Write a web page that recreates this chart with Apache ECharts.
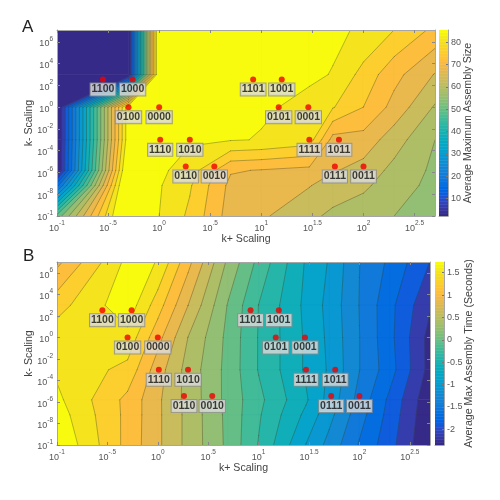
<!DOCTYPE html>
<html><head><meta charset="utf-8">
<style>html,body{margin:0;padding:0;background:#fff}#c{width:500px;height:500px;filter:blur(0.35px)}</style>
<script src="https://cdn.jsdelivr.net/npm/echarts@6/dist/echarts.min.js"></script>
</head><body><div id="c"></div>
<script>
// log10 of the sampled k+ and k- scalings
const kPlusNodes  = [-1, -0.3, 0, 0.3, 0.7, 1, 1.47, 1.7, 2, 2.3, 2.7];
const kMinusNodes = [7.1, 3, 0, -3, -5.8, -7.2, -10];

// Average Maximum Assembly Size (rows follow kMinusNodes, columns kPlusNodes)
const sizeValues = [
  [ 1,  1,    93.5, 86.4, 85.9, 85.9, 85.9, 85.9, 85.2, 81.1, 75.6],
  [ 1,  1,    93.5, 86.4, 85.9, 85.9, 85.9, 85.4, 79.5, 73.8, 67.7],
  [ 1,  88.9, 89.7, 86.4, 85.9, 85.9, 84.8, 81.4, 76.7, 70.8, 63.1],
  [ 1,  88.9, 86.4, 86.0, 85.8, 85.3, 83.3, 70.6, 70.6, 65.6, 59.2],
  [ 1,  93.2, 86.4, 83.5, 72.8, 72.1, 71.0, 68.4, 66.3, 62.3, 58.3],
  [18,  95.6, 85.9, 81.6, 71.1, 70.9, 68.2, 65.8, 64.4, 61.2, 57.9],
  [52,  95.1, 85.5, 80.2, 70.2, 68.7, 64.5, 62.7, 61.1, 59.2, 56.6]
];
// Average Max Assembly Time in seconds
const timeValues = [
  [1.03, 1.80, 1.735, 1.17, 0.40, -0.04, -0.65, -0.86, -1.27, -1.53, -1.92],
  [1.44, 1.88, 1.41,  0.88, 0.21, -0.20, -0.68, -0.91, -1.28, -1.64, -2.11],
  [1.65, 1.67, 1.17,  0.66, 0.17, -0.21, -0.66, -0.89, -1.27, -1.64, -2.21],
  [1.70, 1.46, 0.98,  0.58, 0.16, -0.21, -0.66, -0.87, -1.27, -1.61, -2.21],
  [1.79, 1.25, 0.92,  0.59, 0.16, -0.14, -0.60, -0.92, -1.35, -1.75, -2.30],
  [1.85, 1.25, 0.92,  0.60, 0.17, -0.17, -0.68, -0.99, -1.40, -1.78, -2.32],
  [1.95, 1.24, 0.92,  0.60, 0.18, -0.21, -0.85, -1.13, -1.51, -1.84, -2.35]
];
const sizeRange = [2.2, 85.5];
const timeRange = [-2.35, 1.74];
const bandCount = 19;

const dotCodes = ['1100','1000','0100','0000','1110','1010','0110','0010','1101','1001','0101','0001','1111','1011','0111','0011'];
const dotKPlus = [-0.55,-0.26,-0.30,0,0.01,0.30,0.26,0.54,0.92,1.20,1.17,1.46,1.47,1.76,1.72,2.00];
const dotKMinus = [2.55,2.55,0,0,-3,-3,-5.45,-5.45,2.55,2.55,0,0,-3,-3,-5.45,-5.45];

const xTicks = [-1,-0.5,0,0.5,1,1.5,2,2.5];
const xTickLabels = ['-1','-.5','0','.5','1','1.5','2','2.5'];
const yTicks = [-10,-8,-6,-4,-2,0,2,4,6];
const yTickLabels = ['-1','-8','-6','-4','-2','0','2','4','6'];
const sizeBarTicks = [10,20,30,40,50,60,70,80];
const timeBarTicks = [-2,-1.5,-1,-0.5,0,0.5,1,1.5];

const parula = [[.2081,.1663,.5292],[.2116,.1898,.5777],[.2123,.2138,.627],[.2081,.2386,.6771],[.1959,.2645,.7279],[.1707,.2919,.7792],[.1253,.3242,.8303],[.0591,.3598,.8683],[.0117,.3875,.882],[.006,.4086,.8828],[.0165,.4266,.8786],[.0329,.443,.872],[.0498,.4586,.8641],[.0629,.4737,.8554],[.0723,.4887,.8467],[.0779,.504,.8384],[.0793,.52,.8312],[.0749,.5375,.8263],[.0641,.557,.824],[.0488,.5772,.8228],[.0343,.5966,.8199],[.0265,.6137,.8135],[.0239,.6287,.8038],[.0231,.6418,.7913],[.0228,.6535,.7768],[.0267,.6642,.7607],[.0384,.6743,.7436],[.059,.6838,.7254],[.0843,.6928,.7062],[.1133,.7015,.6859],[.1453,.7098,.6646],[.1801,.7177,.6424],[.2178,.725,.6193],[.2586,.7317,.5954],[.3022,.7376,.5712],[.3482,.7424,.5473],[.3953,.7459,.5244],[.442,.7481,.5033],[.4871,.7491,.484],[.53,.7491,.4661],[.5709,.7485,.4494],[.6099,.7473,.4337],[.6473,.7456,.4188],[.6834,.7435,.4044],[.7184,.7411,.3905],[.7525,.7384,.3768],[.7858,.7356,.3633],[.8185,.7327,.3498],[.8507,.7299,.336],[.8824,.7274,.3217],[.9139,.7258,.3063],[.945,.7261,.2886],[.9739,.7314,.2666],[.9938,.7455,.2403],[.999,.7653,.2164],[.9955,.7861,.1967],[.988,.8066,.1794],[.9789,.8271,.1633],[.9697,.8481,.1475],[.9626,.8705,.1309],[.9589,.8949,.1132],[.9598,.9218,.0948],[.9661,.9514,.0755],[.9763,.9831,.0538]];

function colorAt(t){
  const c = parula[Math.max(0,Math.min(63,Math.round(t*63)))];
  return 'rgb(' + c.map(v=>Math.round(v*255)).join(',') + ')';
}

// Cut every grid cell at each contour level, in data coordinates.
function contourParts(values, range){
  const fills = [], lines = [];
  const corners = (r,c)=>[[kPlusNodes[c],kMinusNodes[r],values[r][c]],[kPlusNodes[c+1],kMinusNodes[r],values[r][c+1]],[kPlusNodes[c+1],kMinusNodes[r+1],values[r+1][c+1]],[kPlusNodes[c],kMinusNodes[r+1],values[r+1][c]]];
  const cross=(a,b,l)=>{const f=(l-a[2])/(b[2]-a[2]);return [a[0]+f*(b[0]-a[0]),a[1]+f*(b[1]-a[1])];};
  for(let i=0;i<=bandCount;i++){
    const level = range[0]+i*(range[1]-range[0])/bandCount;
    const color = colorAt(i/bandCount);
    for(let r=0;r<kMinusNodes.length-1;r++)for(let c=0;c<kPlusNodes.length-1;c++){
      const q=corners(r,c), poly=[], pts=[];
      for(let k=0;k<4;k++){
        const a=q[k], b=q[(k+1)%4], ia=(i===0)||a[2]>=level, ib=(i===0)||b[2]>=level;
        if(ia) poly.push([a[0],a[1]]);
        if(ia!==ib){const p=cross(a,b,level); poly.push(p); pts.push(p);}
      }
      if(poly.length>2) fills.push({poly,color});
      if(i>0 && pts.length>=2){
        if(pts.length===2) lines.push([pts[0],pts[1]]);
        else { lines.push([pts[0],pts[1]]); lines.push([pts[2],pts[3]]); }
      }
    }
  }
  return {fills,lines};
}

function fillSeries(xi,fills){
  return {type:'custom',xAxisIndex:xi,yAxisIndex:xi,silent:true,animation:false,z:2,clip:true,
    data:fills.map((f,i)=>[i]),encode:{x:-1,y:-1},
    renderItem:(p,api)=>{const f=fills[api.value(0)];
      return {type:'polygon',shape:{points:f.poly.map(q=>api.coord(q))},style:{fill:f.color,stroke:f.color,lineWidth:0.6}};}};
}
function lineSeries(xi,lines){
  return {type:'custom',xAxisIndex:xi,yAxisIndex:xi,silent:true,animation:false,z:3,clip:true,
    data:lines.map((f,i)=>[i]),encode:{x:-1,y:-1},
    renderItem:(p,api)=>{const l=lines[api.value(0)],a=api.coord(l[0]),b=api.coord(l[1]);
      return {type:'line',shape:{x1:a[0],y1:a[1],x2:b[0],y2:b[1]},style:{stroke:'rgba(50,55,40,0.5)',lineWidth:0.7,lineCap:'round'}};}};
}
function dotSeries(xi){
  return {type:'scatter',xAxisIndex:xi,yAxisIndex:xi,silent:true,animation:false,z:6,symbolSize:6,
    itemStyle:{color:'#f00000'},
    data:dotCodes.map((n,i)=>({name:n,value:[dotKPlus[i],dotKMinus[i]]})),
    label:{show:true,position:'bottom',distance:1,formatter:'{b}',color:'#111',fontFamily:'Liberation Sans',fontWeight:'bold',fontSize:10.5,lineHeight:10,
      backgroundColor:'#dcdcdc',borderColor:'#8c8c8c',borderWidth:1,padding:[1,1,1,1]}};
}
function barSeries(xi,range){
  const slices=parula.map((c,i)=>i);
  return {type:'custom',xAxisIndex:xi,yAxisIndex:xi,silent:true,animation:false,z:2,clip:true,
    data:slices.map(i=>[i]),encode:{x:-1,y:-1},
    renderItem:(p,api)=>{const i=api.value(0),s=(range[1]-range[0])/64;
      const a=api.coord([0,range[0]+i*s]),b=api.coord([1,range[0]+(i+1)*s]);
      return {type:'rect',shape:{x:a[0],y:b[1],width:b[0]-a[0],height:a[1]-b[1]},style:{fill:colorAt(i/63),stroke:colorAt(i/63),lineWidth:0.5}};}};
}

const GREY='#a6a6a6', TXT='#555555';
const richLabel={b:{fontSize:9,lineHeight:13,color:TXT,verticalAlign:'bottom',fontFamily:'Liberation Sans'},s:{fontSize:6.5,lineHeight:13,color:TXT,verticalAlign:'top',fontFamily:'Liberation Sans'}};
const mainLine={onZero:false,lineStyle:{color:GREY,width:1}};
function xMain(gi){return {type:'value',gridIndex:gi,min:-1,max:2.7,z:5,name:'k+ Scaling',nameLocation:'middle',nameGap:18,nameMoveOverlap:false,
  nameTextStyle:{color:'#444',fontSize:10.6,fontFamily:'Liberation Sans'},axisLine:mainLine,splitLine:{show:false},
  axisTick:{inside:true,length:3,lineStyle:{color:'#888'},customValues:xTicks},
  axisLabel:{margin:4,customValues:xTicks,rich:richLabel,hideOverlap:false,showMinLabel:true,showMaxLabel:true,
    formatter:v=>'{b|10}{s|'+xTickLabels[xTicks.indexOf(v)]+'}'}};}
function yMain(gi,yTop){return {type:'value',gridIndex:gi,min:-10,max:yTop,z:5,name:'k- Scaling',nameLocation:'middle',nameGap:22,nameMoveOverlap:false,nameRotate:90,
  nameTextStyle:{color:'#444',fontSize:10.6,fontFamily:'Liberation Sans'},axisLine:mainLine,splitLine:{show:false},
  axisTick:{inside:true,length:3,lineStyle:{color:'#888'},customValues:yTicks},
  axisLabel:{margin:4,customValues:yTicks,rich:richLabel,
    formatter:v=>'{b|10}{s|'+yTickLabels[yTicks.indexOf(v)]+'}'}};}
function xMirror(gi){return {type:'value',gridIndex:gi,min:-1,max:2.7,z:5,position:'top',axisLine:{show:true,...mainLine},splitLine:{show:false},
  axisTick:{show:true,inside:true,length:3,lineStyle:{color:'#888'},customValues:xTicks},axisLabel:{show:false}};}
function yMirror(gi,yTop){return {type:'value',gridIndex:gi,min:-10,max:yTop,z:5,position:'right',axisLine:{show:true,...mainLine},splitLine:{show:false},
  axisTick:{show:true,inside:true,length:3,lineStyle:{color:'#888'},customValues:yTicks},axisLabel:{show:false}};}
function xBar(gi){return {type:'value',gridIndex:gi,min:0,max:1,z:5,position:'bottom',axisLine:{show:true,...mainLine},axisTick:{show:false},axisLabel:{show:false},splitLine:{show:false}};}
function yBar(gi,range,ticks,name,gap){return {type:'value',gridIndex:gi,min:range[0],max:range[1],z:5,position:'right',name,nameLocation:'middle',nameGap:gap,nameMoveOverlap:false,nameRotate:90,
  nameTextStyle:{color:'#444',fontSize:10.6,fontFamily:'Liberation Sans'},axisLine:{show:true,...mainLine},splitLine:{show:false},
  axisTick:{show:true,inside:true,length:2,lineStyle:{color:'#777'},customValues:ticks},
  axisLabel:{margin:3,color:TXT,fontSize:9,fontFamily:'Liberation Sans',customValues:ticks}};}

const A=contourParts(sizeValues,sizeRange), B=contourParts(timeValues,timeRange);
const yTopA=7.1, yTopB=7.03;
const option={
  animation:false,backgroundColor:'#fff',
  title:[{text:'A',left:22,top:19,padding:0,textStyle:{fontSize:17,fontWeight:'normal',color:'#222',fontFamily:'Liberation Sans'}},
         {text:'B',left:23,top:248,padding:0,textStyle:{fontSize:17,fontWeight:'normal',color:'#222',fontFamily:'Liberation Sans'}}],
  grid:[{left:57,top:30,width:378,height:186},{left:439,top:30,width:9,height:186},
        {left:57,top:262,width:373,height:183},{left:435,top:262,width:9,height:183},
        {left:57,top:30,width:378,height:186},{left:57,top:262,width:373,height:183}],
  xAxis:[xMain(0),xBar(1),xMain(2),xBar(3),xMirror(4),xMirror(5)],
  yAxis:[yMain(0,yTopA),yBar(1,sizeRange,sizeBarTicks,'Average Maximum Assembly Size',15),
         yMain(2,yTopB),yBar(3,timeRange,timeBarTicks,'Average Max Assembly Time (Seconds)',20),
         yMirror(4,yTopA),yMirror(5,yTopB)],
  series:[fillSeries(0,A.fills),lineSeries(0,A.lines),dotSeries(0),barSeries(1,sizeRange),
          fillSeries(2,B.fills),lineSeries(2,B.lines),dotSeries(2),barSeries(3,timeRange)]
};
echarts.init(document.getElementById('c'),null,{renderer:'canvas'}).setOption(option);
</script></body></html>
